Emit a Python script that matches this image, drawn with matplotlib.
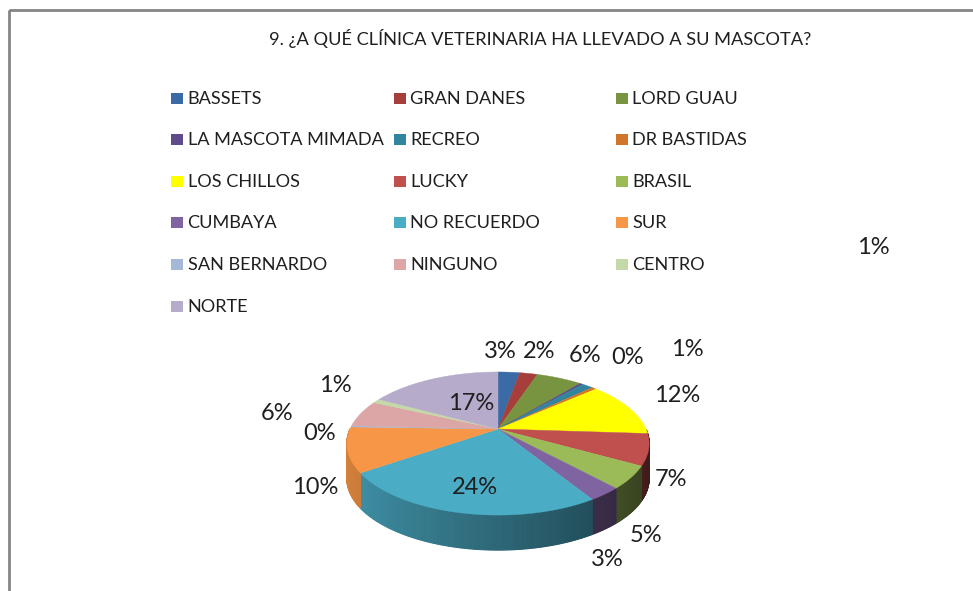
#Grafico de pastel 3D de las clinicas veterinarias
import numpy as np
import matplotlib
matplotlib.use("Agg")
import matplotlib.pyplot as plt
from matplotlib.colors import to_rgb
from matplotlib.patches import Rectangle

plt.rcParams["font.family"] = ["Lato", "DejaVu Sans"]

# Datos
titulo = "9. ¿A QUÉ CLÍNICA VETERINARIA HA LLEVADO A SU MASCOTA?"
clinicas = ["BASSETS", "GRAN DANES", "LORD GUAU", "LA MASCOTA MIMADA", "RECREO", "DR BASTIDAS",
            "LOS CHILLOS", "LUCKY", "BRASIL", "CUMBAYA", "NO RECUERDO", "SUR",
            "SAN BERNARDO", "NINGUNO", "CENTRO", "NORTE"]
porcentajes = [2.8, 2.3, 5.9, 0.4, 1.4, 0.6, 12.4, 7, 5, 3, 24, 10, 0.3, 6, 1, 17]
etiquetas = ["3%", "2%", "6%", "0%", "1%", "1%", "12%", "7%", "5%", "3%", "24%", "10%", "0%", "6%", "1%", "17%"]
colores = ["#3b6ba5", "#a63f3c", "#789440", "#5f4a8b", "#31859c", "#d0762a", "#ffff00", "#c0504d",
           "#9bbb59", "#8064a2", "#4bacc6", "#f79646", "#a5b8d8", "#dba6a5", "#c5d8a8", "#b7abcb"]

# Posicion de los textos de porcentaje (pixeles)
pos_etiquetas = [(500, 351), (539, 352), (585, 355), (628, 358), (687, 349), (873, 247),
                 (677, 395), (671, 480), (646, 535), (607, 559), (475, 488), (315, 487),
                 (320, 433), (277, 413), (335, 385), (471, 403)]

# Geometria del pastel en perspectiva
cx, cy = 498, 429
rx, ry, k = 148, 68.6, 0.203
grosor = 35


def perspectiva(x, y):
    d = 1 + k * y
    return cx + rx * x / d, cy - ry * y / d


def arco(t1, t2):
    t = np.radians(np.linspace(t1, t2, max(int(t2 - t1) * 2, 2)))
    return t, np.cos(t), np.sin(t)


fig = plt.figure(figsize=(9.73, 5.91), dpi=100)
ax = fig.add_axes([0, 0, 1, 1])

wedges, _ = ax.pie(porcentajes, colors=colores, startangle=90, counterclock=False)
rebanadas = [(w.theta1, w.theta2) for w in wedges]
for w in wedges:
    w.remove()

ax.set_aspect("auto")
ax.set_xlim(0, 973)
ax.set_ylim(591, 0)
ax.axis("off")

# Marco (abierto a la derecha y abajo)
ax.add_patch(Rectangle((9, 10), 1000, 600, fill=False, edgecolor="#858585", linewidth=2))

# Titulo
ax.text(540, 38, titulo, ha="center", va="center", fontsize=13.15, color="#1f1f1f")

# Leyenda
col_x = [171, 394, 616]
for i, (nombre, color) in enumerate(zip(clinicas, colores)):
    x = col_x[i % 3]
    y = 98 + 41.6 * (i // 3)
    ax.add_patch(Rectangle((x, y - 5.5), 12, 11, facecolor=color, edgecolor="none"))
    ax.text(x + 16.5, y + 0.5, nombre, ha="left", va="center", fontsize=13.1, color="#1f1f1f")

# Costado del pastel, mas oscuro hacia la derecha
for (t1, t2), color in zip(rebanadas, colores):
    base = np.array(to_rgb(color))
    t, cs, sn = arco(t1, t2)
    px, py = perspectiva(cs, sn)
    for j in range(len(t) - 1):
        m = (t[j] + t[j + 1]) / 2
        if np.sin(m) >= 0:
            continue
        c = base * (0.6 - 0.27 * np.cos(m))
        ax.fill([px[j], px[j + 1], px[j + 1], px[j]],
                [py[j], py[j + 1], py[j + 1] + grosor, py[j] + grosor],
                facecolor=c, edgecolor=c, linewidth=0.8)

# Cara superior
for (t1, t2), color in zip(rebanadas, colores):
    _, cs, sn = arco(t1, t2)
    px, py = perspectiva(np.r_[0, cs], np.r_[0, sn])
    ax.fill(px, py, facecolor=color, edgecolor=color, linewidth=0.3)

# Porcentajes
for texto, (x, y) in zip(etiquetas, pos_etiquetas):
    ax.text(x, y, texto, ha="center", va="center", fontsize=17, color="#1f1f1f")

fig.savefig("out.png", dpi=100)
